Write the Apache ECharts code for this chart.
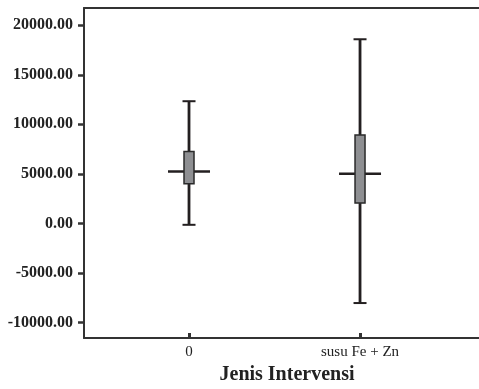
<!DOCTYPE html>
<html>
<head>
<meta charset="utf-8">
<script src="https://cdn.jsdelivr.net/npm/echarts@6/dist/echarts.min.js"></script>
<style>html,body{margin:0;padding:0;background:#fff}#c{width:479px;height:389px}</style>
</head>
<body>
<div id="c"></div>
<script>
var categories = ['0', 'susu Fe + Zn'];
var whiskerLow = [-145, -8044];
var boxLow = [3990, 2045];
var meanVal = [5230, 5000];
var boxHigh = [7250, 8934];
var whiskerHigh = [12333, 18588];
var yTicks = [-10000, -5000, 0, 5000, 10000, 15000, 20000];
var xTitle = 'Jenis Intervensi';

var data = categories.map(function (c, i) {
  return [i, whiskerLow[i], boxLow[i], meanVal[i], boxHigh[i], whiskerHigh[i]];
});

var chart = echarts.init(document.getElementById('c'), null, {renderer: 'canvas'});
var ink = '#231f20';
chart.setOption({
  animation: false,
  backgroundColor: '#fff',
  grid: {left: 84, top: 8, width: 406, bottom: 51, show: false, outerBoundsMode: 'none', containLabel: false},
  xAxis: [{
    type: 'value', min: -0.614, max: 1.76,
    splitLine: {show: false},
    axisLine: {onZero: false, lineStyle: {color: '#333', width: 2}},
    axisTick: {customValues: [0, 1], inside: true, length: 5, lineStyle: {color: '#333', width: 3}},
    axisLabel: {customValues: [0, 1], formatter: function (v) { return categories[Math.round(v)]; },
      fontFamily: 'Liberation Serif', fontSize: 15, color: '#222', margin: 7},
    name: xTitle, nameLocation: 'middle', nameGap: 15,
    nameTextStyle: {fontFamily: 'Liberation Serif', fontWeight: 'bold', fontSize: 20, color: '#222', verticalAlign: 'top'}
  }, {
    type: 'value', position: 'top', min: -0.614, max: 1.76,
    splitLine: {show: false}, axisTick: {show: false}, axisLabel: {show: false},
    axisLine: {onZero: false, lineStyle: {color: '#333', width: 2}}
  }],
  yAxis: {
    type: 'value', min: -11573, max: 21744,
    splitLine: {show: false},
    axisLine: {onZero: false, lineStyle: {color: '#333', width: 2}},
    axisTick: {customValues: yTicks, length: 6, lineStyle: {color: '#333', width: 2.5}},
    axisLabel: {customValues: yTicks, formatter: function (v) { return v.toFixed(2); },
      fontFamily: 'Liberation Serif', fontWeight: 'bold', fontSize: 16, color: '#222', margin: 11}
  },
  series: [{
    type: 'custom',
    data: data,
    encode: {x: 0, y: [1, 2, 3, 4, 5]},
    renderItem: function (params, api) {
      var x = api.value(0);
      var pLow = api.coord([x, api.value(1)]);
      var pBL = api.coord([x, api.value(2)]);
      var pMean = api.coord([x, api.value(3)]);
      var pBH = api.coord([x, api.value(4)]);
      var pHigh = api.coord([x, api.value(5)]);
      var cx = pLow[0];
      var ls = {stroke: ink, lineWidth: 2.8};
      return {
        type: 'group',
        children: [
          {type: 'line', shape: {x1: cx, y1: pHigh[1], x2: cx, y2: pLow[1]}, style: ls},
          {type: 'line', shape: {x1: cx - 6.5, y1: pHigh[1], x2: cx + 6.5, y2: pHigh[1]}, style: {stroke: ink, lineWidth: 2}},
          {type: 'line', shape: {x1: cx - 6.5, y1: pLow[1], x2: cx + 6.5, y2: pLow[1]}, style: {stroke: ink, lineWidth: 2}},
          {type: 'line', shape: {x1: cx - 21, y1: pMean[1], x2: cx + 21, y2: pMean[1]}, style: {stroke: ink, lineWidth: 2.5}},
          {type: 'rect', shape: {x: cx - 5, y: pBH[1], width: 10, height: pBL[1] - pBH[1]},
            style: {fill: '#8e8f92', stroke: '#2a2a2a', lineWidth: 1.5}}
        ]
      };
    }
  }]
});
</script>
</body>
</html>
